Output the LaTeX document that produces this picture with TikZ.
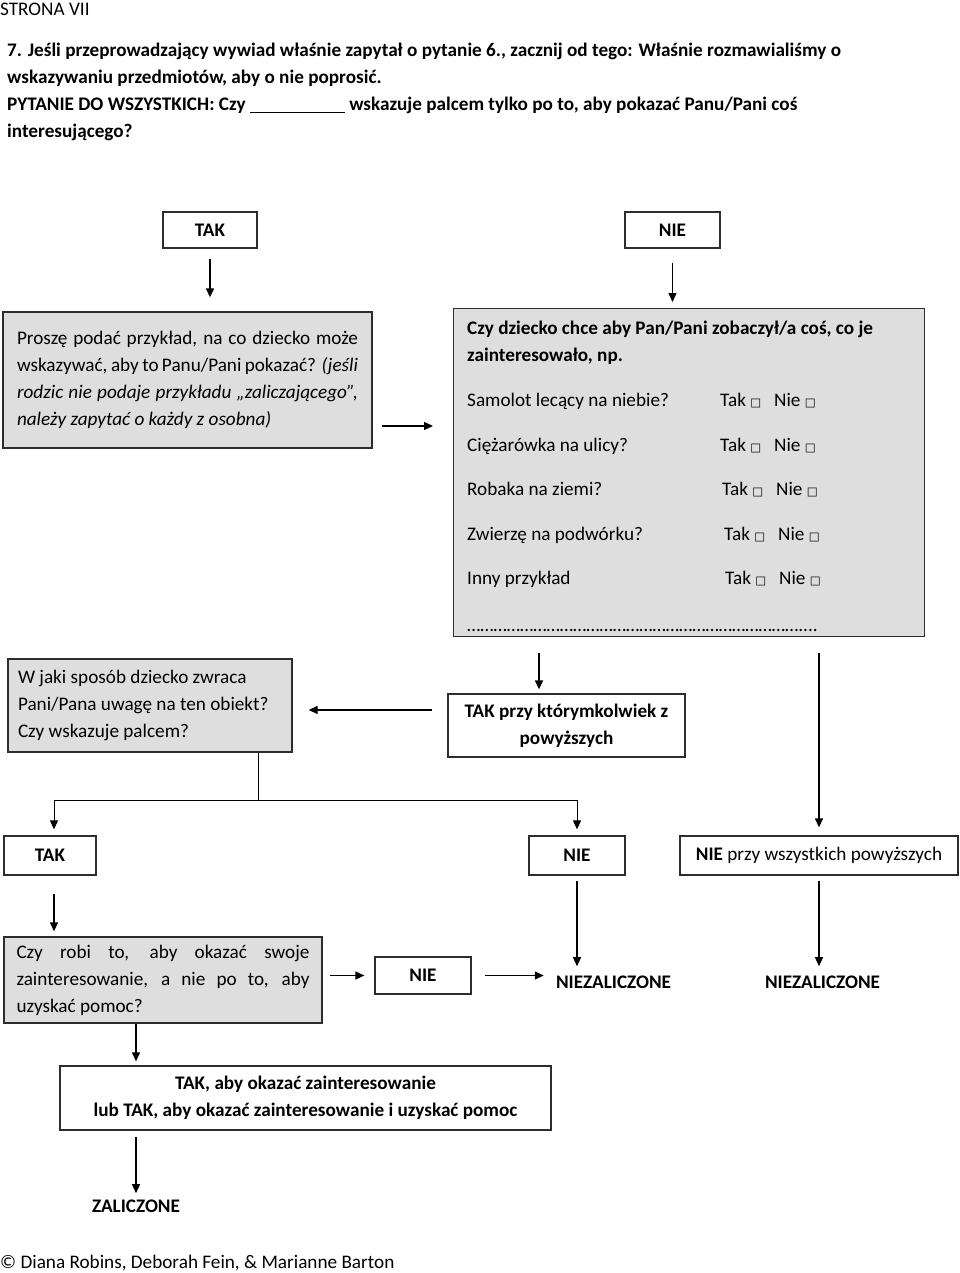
\documentclass[tikz,border=0pt]{standalone}
\usepackage{fontspec}
\setmainfont{Carlito}
\newfontfamily\dejavu{DejaVu Sans}
\usetikzlibrary{arrows.meta}
\definecolor{boxgray}{RGB}{222,222,222}
\definecolor{linec}{RGB}{45,45,45}
\newcommand\fs{\fontsize{19.2}{27}\selectfont}
\newcommand\sq{{\dejavu\fontsize{11.5}{11.5}\selectfont □}}
\newcommand\taknie{Tak~\sq\hspace{13pt}Nie~\sq}
\begin{document}
\begin{tikzpicture}[x=1pt,y=-1pt,
  every node/.style={font=\fs, inner sep=0pt},
  txt/.style={anchor=base west},
  btxt/.style={anchor=base west, font=\fs\bfseries},
  wbox/.style={draw=linec, line width=1.3pt, fill=white, rectangle},
  gbox/.style={wbox, fill=boxgray},
  arr/.style={-{Triangle[length=9pt,width=8pt]}, line width=1.3pt, draw=black},
  thinl/.style={line width=1pt, draw=black}]
\useasboundingbox (0,0) rectangle (960,1273);

% header
\node[txt] (strona) at (0,16) {STRONA VII};
\node[btxt] (h1) at (7,57) {7. Jeśli przeprowadzający wywiad właśnie zapytał o pytanie 6., zacznij od tego: Właśnie rozmawialiśmy o};
\node[btxt] (h2) at (7,84) {wskazywaniu przedmiotów, aby o nie poprosić.};
\node[btxt] (h3) at (7,111) {PYTANIE DO WSZYSTKICH: Czy \rule[-2pt]{95pt}{1.2pt} wskazuje palcem tylko po to, aby pokazać Panu/Pani coś};
\node[btxt] (h4) at (7,138) {interesującego?};

% top boxes
\node[wbox, minimum width=94pt, minimum height=36pt, font=\fs\bfseries] (tak1) at (210,230) {TAK};
\node[wbox, minimum width=95pt, minimum height=36pt, font=\fs\bfseries] (nie1) at (672.5,230) {NIE};

% box 1
\node[gbox, minimum width=369pt, minimum height=136pt] (q1) at (187.5,380) {\parbox{341pt}{%
\makebox[\linewidth][s]{Proszę podać przykład, na co dziecko może}\par
\makebox[\linewidth][s]{wskazywać, aby to Panu/Pani pokazać? \textit{(jeśli}}\par
\makebox[\linewidth][s]{\itshape rodzic nie podaje przykładu „zaliczającego”,}\par
\textit{należy zapytać o każdy z osobna)}}};

% box 2
\node[gbox, minimum width=471pt, minimum height=328pt, anchor=north west] (q2) at (453,308) {};
\node[btxt] (q2a) at (467,334) {Czy dziecko chce aby Pan/Pani zobaczył/a coś, co je};
\node[btxt] (q2b) at (467,361) {zainteresowało, np.};
\node[txt] (r1) at (467,406) {Samolot lecący na niebie?};
\node[txt] (r1t) at (720,406) {\taknie};
\node[txt] (r2) at (467,451) {Ciężarówka na ulicy?};
\node[txt] (r2t) at (720,451) {\taknie};
\node[txt] (r3) at (467,495) {Robaka na ziemi?};
\node[txt] (r3t) at (722,495) {\taknie};
\node[txt] (r4) at (467,540) {Zwierzę na podwórku?};
\node[txt] (r4t) at (724,540) {\taknie};
\node[txt] (r5) at (467,584) {Inny przykład};
\node[txt] (r5t) at (725,584) {\taknie};
\node[txt] (dots) at (467,631) {…………………………………………………………………....};

% box takany
\node[wbox, minimum width=237pt, minimum height=63pt, align=center, font=\fs\bfseries] (takany) at (566.5,725.5) {TAK przy którymkolwiek z\\powyższych};

% box 3
\node[gbox, minimum width=284pt, minimum height=93pt] (q3) at (150,705.5) {\parbox{264pt}{\raggedright
W jaki sposób dziecko zwraca\\Pani/Pana uwagę na ten obiekt?\\Czy wskazuje palcem?}};

% row boxes
\node[wbox, minimum width=92pt, minimum height=39pt, font=\fs\bfseries] (tak2) at (50,855.5) {TAK};
\node[wbox, minimum width=96pt, minimum height=39pt, font=\fs\bfseries] (nie2) at (577,855.5) {NIE};
\node[wbox, minimum width=278pt, minimum height=39pt] (nie3) at (819,855.5) {\textbf{NIE} przy wszystkich powyższych};

% box 4
\node[gbox, minimum width=318pt, minimum height=86pt] (q4) at (163,980) {\parbox{293pt}{%
\makebox[\linewidth][s]{Czy robi to, aby okazać swoje}\par
\makebox[\linewidth][s]{zainteresowanie, a nie po to, aby}\par
uzyskać pomoc?}};
\node[wbox, minimum width=96pt, minimum height=37pt, font=\fs\bfseries] (nie4) at (423,975.5) {NIE};
\node[anchor=base, font=\fs\bfseries] (niez1) at (613.5,988) {NIEZALICZONE};
\node[anchor=base, font=\fs\bfseries] (niez2) at (822.5,988) {NIEZALICZONE};

% box 5
\node[wbox, minimum width=491pt, minimum height=64pt, align=center, font=\fs\bfseries] (q5) at (305.5,1098) {TAK, aby okazać zainteresowanie\\lub TAK, aby okazać zainteresowanie i uzyskać pomoc};
\node[anchor=base, font=\fs\bfseries] (zal) at (136,1212) {ZALICZONE};

\node[txt] (foot) at (0,1268) {© Diana Robins, Deborah Fein, \& Marianne Barton};

% connectors
\draw[arr, shorten <=10pt, shorten >=14pt] (tak1.south) -- (tak1.south |- q1.north);
\draw[arr, shorten <=14pt, shorten >=6pt] (nie1.south) -- (nie1.south |- q2.north);
\draw[arr, shorten <=9pt, shorten >=20pt] ([yshift=-46pt]q1.east) -- ([yshift=-46pt]q1.east -| q2.west);
\draw[arr, shorten <=16pt, shorten >=4pt] ([xshift=-27.5pt]takany.north |- q2.south) -- ([xshift=-27.5pt]takany.north);
\draw[arr, shorten <=15pt, shorten >=16pt] ([yshift=15.5pt]takany.west) -- ([yshift=15.5pt]takany.west -| q3.east);
\coordinate (split) at (258,800);
\draw[thinl] (split |- q3.south) -- (split);
\draw[arr, line width=1pt, shorten >=6pt] (split) -| ([xshift=4pt]tak2.north);
\draw[arr, line width=1pt, shorten >=6pt] (split) -| (nie2.north);
\draw[arr, shorten <=16pt, shorten >=8pt] (nie3.north |- q2.south) -- (nie3.north);
\draw[arr, shorten <=18pt, shorten >=5pt] ([xshift=4pt]tak2.south) -- ([xshift=4pt]tak2.south |- q4.north);
\draw[arr, shorten <=5pt, shorten >=9pt] (nie2.south) -- (nie2.south |- niez1.north);
\draw[arr, shorten <=5pt, shorten >=9pt] (nie3.south) -- (nie3.south |- niez2.north);
\draw[arr, shorten <=7pt, shorten >=10pt] (q4.east |- nie4.west) -- (nie4.west);
\draw[arr, shorten <=13pt, shorten >=12pt] (nie4.east) -- (nie4.east -| niez1.west);
\draw[arr, shorten >=4pt] ([xshift=-27pt]q4.south) -- ([xshift=-27pt]q4.south |- q5.north);
\draw[arr, shorten <=6pt, shorten >=6pt] ([xshift=-169.5pt]q5.south) -- (zal.north);
\end{tikzpicture}
\end{document}
